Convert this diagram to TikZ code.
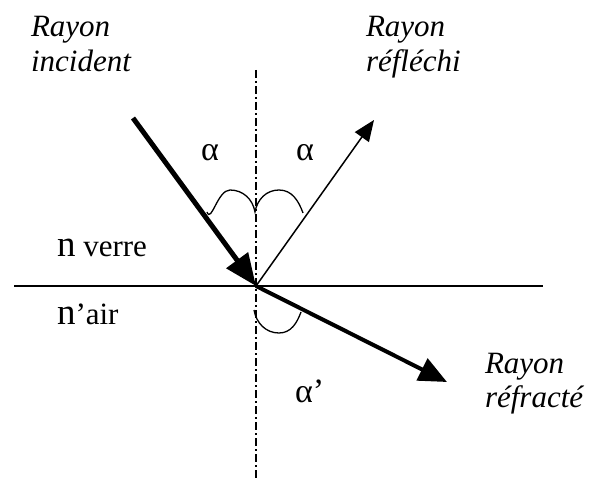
\documentclass[tikz,border=0pt]{standalone}
\usepackage{fontspec}
\setmainfont{Liberation Serif}
\usetikzlibrary{arrows.meta}
\usetikzlibrary{positioning}

\begin{document}
\begin{tikzpicture}[x=1pt,y=-1pt,
  every node/.style={inner sep=0pt,outer sep=0pt,anchor=base west},
  raylabel/.style={font=\fontsize{31}{31}\selectfont\itshape},
  anglabel/.style={font=\fontsize{34}{34}\selectfont},
  medium/.style={font=\fontsize{31}{31}\selectfont},
  bump/.style={line width=1.3pt}]
\useasboundingbox (0,0) rectangle (589,478);
\coordinate (o) at (256,286);
\coordinate (top) at (256,70);
\coordinate (bot) at (256,478);
\coordinate (left) at (14,286);
\coordinate (right) at (543,286);
\coordinate (inc) at (133,118);
\coordinate (refl) at (374,120);
\coordinate (refr) at (447,382);
\draw[line width=1.8pt] (left) -- (right);
\draw[line width=1.5pt,dash pattern=on 8pt off 3pt on 2pt off 3pt] (top) -- (bot);
\draw[line width=5pt,-{Triangle[length=32pt,width=26pt]}] (inc) -- (o);
\draw[line width=1.5pt,-{Triangle[length=21pt,width=17pt]}] (o) -- (refl);
\draw[line width=4pt,-{Triangle[length=28pt,width=24pt]}] (o) -- (refr);
\draw[bump] (207,212) to[out=-70,in=180] (230,190) to[out=0,in=100] (255,212)
  to[out=80,in=180] (279,190) to[out=0,in=110] (303,213);
\draw[bump] (254,310) to[out=-80,in=180] (279,333) to[out=0,in=-110] (301,312);
\node[raylabel] (inc1) at (31,37) {Rayon};
\node[raylabel] (inc2) at (31,72) {incident};
\node[raylabel] (refl1) at (366,37) {Rayon};
\node[raylabel] (refl2) at (366,72) {réfléchi};
\node[raylabel] (refr1) at (485,373) {Rayon};
\node[raylabel] (refr2) at (485,407) {réfracté};
\node[anglabel] (a1) at (201,161) {α};
\node[anglabel] (a2) at (296,161) {α};
\node[anglabel] (a3) at (295,402) {α’};
\node[medium] (verre) at (57,257) {{\fontsize{37}{37}\selectfont n} verre};
\node[medium] (air) at (57,325) {{\fontsize{37}{37}\selectfont n}’air};
\end{tikzpicture}
\end{document}
